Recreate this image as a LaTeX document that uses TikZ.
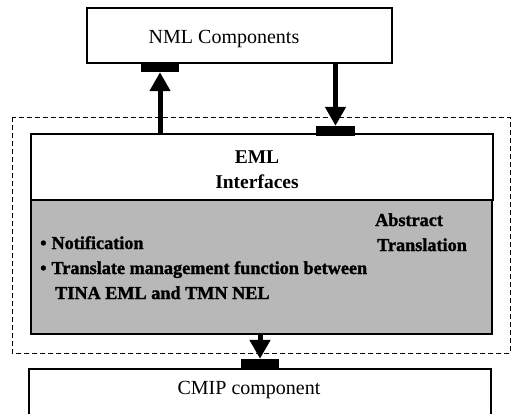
\documentclass[tikz,border=0pt]{standalone}
\usepackage{fontspec}
\setmainfont{Liberation Serif}
\newfontfamily\heavyfont[FakeBold=1.5]{Liberation Serif Bold}
\usetikzlibrary{arrows.meta,calc}
\begin{document}
\begin{tikzpicture}[x=1pt,y=-1pt,
  boxstyle/.style={draw=black,line width=1.3pt,rectangle,inner sep=0pt},
  portstyle/.style={fill=black,draw=none,rectangle,inner sep=0pt,minimum width=38pt,minimum height=10pt},
  arr/.style={line width=5pt,-{Triangle[width=20pt,length=19pt]}},
  groupstyle/.style={draw=black,line width=1pt,dash pattern=on 5pt off 3pt},
  regtext/.style={inner sep=0pt,font=\fontsize{20}{24}\selectfont},
  boldtext/.style={inner sep=0pt,font=\fontsize{18.2}{25}\selectfont\heavyfont}]
\useasboundingbox (0,0) rectangle (518,413);
\clip (0,0) rectangle (518,413);
% dashed group
\draw[groupstyle] (12,117) rectangle (510,353);
% NML box
\node[boxstyle,minimum width=305pt,minimum height=55pt] (nml) at (239.5,35.5) {};
\node[regtext] (nmltext) at (224,39) {NML Components};
% EML boxes
\node[boxstyle,fill=white,minimum width=462pt,minimum height=66pt] (emltop) at (262,167) {};
\node[boxstyle,fill=black!28,minimum width=461pt,minimum height=134pt] (emlbot) at (261.5,267) {};
\node[inner sep=0pt,align=center,font=\fontsize{19.5}{25}\selectfont\bfseries] (emltext) at (257,170) {EML\\Interfaces};
% gray area text
\node[boldtext,anchor=base west] (l1) at (40,249) {•\hspace{5pt}Notification};
\node[boldtext,anchor=base west] (l2) at (40,274) {•\hspace{5pt}Translate management function between};
\node[boldtext,anchor=base west] (l3) at (55,299) {TINA EML and TMN NEL};
\node[boldtext,anchor=base west] (abs1) at (375,226) {Abstract};
\node[boldtext,anchor=base west] (abs2) at (377,251) {Translation};
% CMIP box
\node[boxstyle,fill=white,minimum width=462pt,minimum height=60pt] (cmip) at (260,399) {};
\node[regtext] (cmiptext) at (249,390) {CMIP component};
% ports
\node[portstyle] (portA) at (160,67) {};
\node[portstyle,minimum width=39pt] (portB) at (335.5,131) {};
\node[portstyle] (portC) at (260,364) {};
% arrows
\draw[arr] (emltop.north -| portA) -- (portA.south);
\draw[arr] (nml.south -| portB) -- (portB.north);
\draw[arr] (emlbot.south -| portC) -- (portC.north);
\end{tikzpicture}
\end{document}
